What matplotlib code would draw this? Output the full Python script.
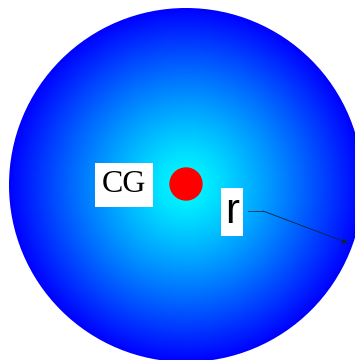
import matplotlib.pyplot as plt
import numpy as np
from matplotlib.patches import Circle

# Diagram geometry (pixel coordinates of the original picture)
body_center = [186, 185]
body_radius = 177
cg_point = [186, 184]
labels = ['CG', 'r']
label_pos = [[124, 185], [232, 212]]
arrow_path = [[248, 211], [263, 211], [348, 243]]

fig = plt.figure(figsize=(3.55, 3.6), dpi=100)
ax = fig.add_axes([0, 0, 1, 1])
ax.set_xlim(0, 355)
ax.set_ylim(360, 0)
ax.set_aspect('equal')
ax.axis('off')

# radial gradient cyan (centre) -> blue (rim)
xx, yy = np.meshgrid(np.arange(0, 360) + 0.5, np.arange(0, 360) + 0.5)
t = np.clip(np.hypot(xx - body_center[0], yy - body_center[1]) / body_radius, 0, 1)
rgb = np.zeros((360, 360, 3))
rgb[..., 1] = 1 - t ** 1.2
rgb[..., 2] = 1.0
im = ax.imshow(rgb, extent=[0, 360, 360, 0], interpolation='bilinear')
im.set_clip_path(Circle(body_center, body_radius, transform=ax.transData))

ax.add_patch(Circle(cg_point, 16, color='#ff0000', zorder=3))

ax.text(label_pos[0][0], label_pos[0][1], labels[0], family='Liberation Serif',
        fontsize=23, ha='center', va='center',
        bbox=dict(facecolor='white', edgecolor='none', pad=5))
ax.text(label_pos[1][0], label_pos[1][1], labels[1],
        family=['Liberation Sans Narrow', 'Liberation Sans'],
        fontsize=30, ha='center', va='center',
        bbox=dict(facecolor='white', edgecolor='none', pad=3))

ax.plot([arrow_path[0][0], arrow_path[1][0]], [arrow_path[0][1], arrow_path[1][1]],
        color='#223344', lw=0.6)
ax.annotate('', xy=arrow_path[2], xytext=arrow_path[1],
            arrowprops=dict(arrowstyle='-|>', color='#112233', lw=0.6,
                            mutation_scale=8, shrinkA=0, shrinkB=0))

fig.savefig('out.png', dpi=100)
